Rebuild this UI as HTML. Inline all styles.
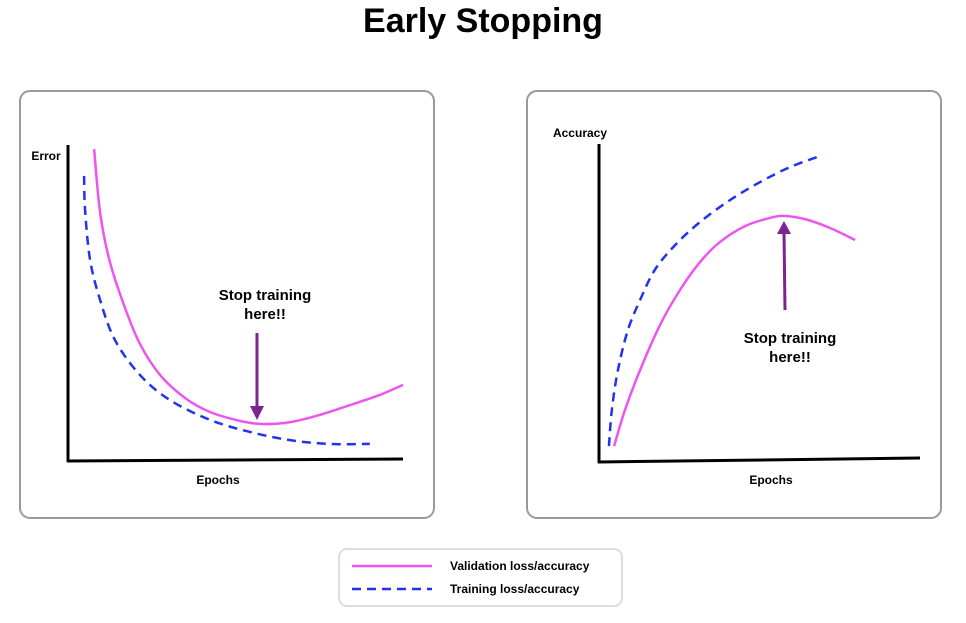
<!DOCTYPE html>
<html><head><meta charset="utf-8"><style>
body{margin:0;background:#fff;width:966px;height:618px;overflow:hidden;font-family:"Liberation Sans",sans-serif}
</style></head><body>
<svg id="svg" width="966" height="618" viewBox="0 0 966 618" xmlns="http://www.w3.org/2000/svg" font-family="Liberation Sans, sans-serif">
<text x="483" y="32" text-anchor="middle" font-size="34" font-weight="bold">Early Stopping</text>
<rect x="20" y="91" width="414" height="427" rx="10" fill="#fff" stroke="#9a9a9a" stroke-width="2"/>
<rect x="527" y="91" width="414" height="427" rx="10" fill="#fff" stroke="#9a9a9a" stroke-width="2"/>
<line x1="68" y1="145" x2="68" y2="462" stroke="#000" stroke-width="3"/>
<line x1="67" y1="461" x2="403" y2="459" stroke="#000" stroke-width="3"/>
<text x="46" y="160" text-anchor="middle" font-size="12" font-weight="bold">Error</text>
<text x="218" y="484" text-anchor="middle" font-size="12" font-weight="bold">Epochs</text>
<line x1="599" y1="144" x2="599" y2="463" stroke="#000" stroke-width="3"/>
<line x1="598" y1="462" x2="920" y2="458" stroke="#000" stroke-width="3"/>
<text x="580" y="137" text-anchor="middle" font-size="12" font-weight="bold">Accuracy</text>
<text x="771" y="484" text-anchor="middle" font-size="12" font-weight="bold">Epochs</text>
<g id="marks"></g>
<g>
<text x="265" y="300" text-anchor="middle" font-size="15" font-weight="bold">Stop training</text>
<text x="265" y="319" text-anchor="middle" font-size="15" font-weight="bold">here!!</text>
<line x1="257" y1="333" x2="257" y2="408" stroke="#7b2390" stroke-width="3"/>
<polygon points="250,406 264,406 257,420" fill="#7b2390"/>
</g>
<g>
<text x="790" y="343" text-anchor="middle" font-size="15" font-weight="bold">Stop training</text>
<text x="790" y="362" text-anchor="middle" font-size="15" font-weight="bold">here!!</text>
<line x1="785" y1="310" x2="784" y2="232" stroke="#7b2390" stroke-width="3"/>
<polygon points="777,234 791,234 784,221" fill="#7b2390"/>
</g>
<g>
<rect x="339" y="549" width="283" height="57" rx="8" fill="#fff" stroke="#ddd" stroke-width="2"/>
<line x1="352" y1="566" x2="432" y2="566" stroke="#ee55ee" stroke-width="2.5"/>
<line x1="352" y1="589" x2="432" y2="589" stroke="#2233ee" stroke-width="2.5" stroke-dasharray="9,6"/>
<text x="450" y="570" font-size="12" font-weight="bold">Validation loss/accuracy</text>
<text x="450" y="593" font-size="12" font-weight="bold">Training loss/accuracy</text>
</g>
</svg>
<script>
// Error chart (data units 0-100)
const errValX=[7.8,9.6,12.5,17,21.5,27.5,35,42.4,51.3,57.9,66.3,75.2,84.2,93.1,100];
const errValY=[98.7,78.5,63,48.5,37,27.2,19.9,15.5,12.7,11.7,12.3,14.6,17.7,20.9,24.1];
const errTrainX=[4.8,5.1,6.6,9.6,14,21.5,30.4,42.4,54.3,66.3,78.2,90.1];
const errTrainY=[90.2,79.4,63.6,50.9,38.3,27.2,19.3,13,9.2,6.6,5.4,5.4];
// Accuracy chart
const accValX=[4.7,8.1,12.8,19,25.2,31.5,37.7,45.5,53.3,57.9,64.2,72,79.8];
const accValY=[4.7,16.1,28.7,42.9,53.9,62.8,69.1,74.1,76.7,77.3,76.3,73.5,69.7];
const accTrainX=[3.1,4,5.9,9,12.8,17.4,23.7,31.5,40.8,50.2,59.5,68.8];
const accTrainY=[4.7,16.1,28.7,41.3,50.8,60.3,68.1,75.4,82.3,88,92.7,96.2];

const exX=v=>68+v*3.35, exY=v=>461-v*3.16;
const axX=v=>599+v*3.21, axY=v=>461-v*3.17;

function smooth(p){
  let d='M'+p[0][0]+','+p[0][1];
  for(let i=0;i<p.length-1;i++){
    const p0=p[Math.max(0,i-1)],p1=p[i],p2=p[i+1],p3=p[Math.min(p.length-1,i+2)];
    const c1=[p1[0]+(p2[0]-p0[0])/6,p1[1]+(p2[1]-p0[1])/6];
    const c2=[p2[0]-(p3[0]-p1[0])/6,p2[1]-(p3[1]-p1[1])/6];
    d+=' C'+c1.join(',')+' '+c2.join(',')+' '+p2.join(',');
  }
  return d;
}
const g=document.getElementById('marks');
function draw(xs,ys,fx,fy,color,dash,name){
  const pts=xs.map((x,i)=>[fx(x),fy(ys[i])]);
  const el=document.createElementNS('http://www.w3.org/2000/svg','path');
  el.setAttribute('d',smooth(pts));
  el.setAttribute('fill','none');
  el.setAttribute('stroke',color);
  el.setAttribute('stroke-width','2.5');
  if(dash) el.setAttribute('stroke-dasharray','9,6');
  
  
  g.appendChild(el);
}
draw(errValX,errValY,exX,exY,'#ee55ee',false,'error-validation-line');
draw(errTrainX,errTrainY,exX,exY,'#2233ee',true,'error-training-line');
draw(accValX,accValY,axX,axY,'#ee55ee',false,'accuracy-validation-line');
draw(accTrainX,accTrainY,axX,axY,'#2233ee',true,'accuracy-training-line');
</script>
</body></html>
